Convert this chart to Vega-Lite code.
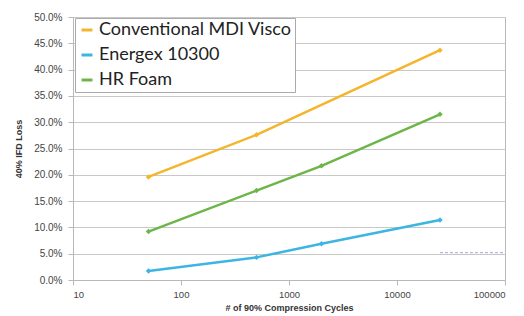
{
  "$schema": "https://vega.github.io/schema/vega-lite/v6.json",
  "width": 432,
  "height": 263,
  "autosize": {"type": "none"},
  "padding": {"left": 73, "top": 17, "right": 19, "bottom": 36},
  "background": "white",
  "config": {
    "view": {"stroke": "#b8b8b8", "strokeWidth": 1},
    "font": "Liberation Sans"
  },
  "datasets": {
    "main": [
      {"series": "Conventional MDI Visco", "cycles": 50, "loss": 0.196},
      {"series": "Conventional MDI Visco", "cycles": 500, "loss": 0.276},
      {"series": "Conventional MDI Visco", "cycles": 25000, "loss": 0.437},
      {"series": "Energex 10300", "cycles": 50, "loss": 0.017},
      {"series": "Energex 10300", "cycles": 500, "loss": 0.043},
      {"series": "Energex 10300", "cycles": 2000, "loss": 0.069},
      {"series": "Energex 10300", "cycles": 25000, "loss": 0.114},
      {"series": "HR Foam", "cycles": 50, "loss": 0.092},
      {"series": "HR Foam", "cycles": 500, "loss": 0.17},
      {"series": "HR Foam", "cycles": 2000, "loss": 0.217},
      {"series": "HR Foam", "cycles": 25000, "loss": 0.315}
    ],
    "ref": [
      {"x1": 25000, "x2": 100000, "y": 0.052}
    ]
  },
  "layer": [
    {
      "data": {"name": "main"},
      "mark": {"type": "line", "strokeWidth": 2.5, "point": {"size": 30, "filled": true, "shape": "diamond"}},
      "encoding": {
        "x": {
          "field": "cycles", "type": "quantitative",
          "scale": {"type": "log", "domain": [10, 100000], "nice": false},
          "axis": {
            "title": "# of 90% Compression Cycles",
            "values": [10, 100, 1000, 10000, 100000],
            "format": "d",
            "grid": false,
            "labelOverlap": false,
            "tickColor": "#b8b8b8",
            "domainColor": "#b8b8b8",
            "labelFontSize": 9.5,
            "labelColor": "#444",
            "tickSize": 5,
            "labelPadding": 4,
            "titleFontSize": 9,
            "titleFontWeight": "bold",
            "titleColor": "#333",
            "titlePadding": 5
          }
        },
        "y": {
          "field": "loss", "type": "quantitative",
          "scale": {"domain": [0, 0.5], "nice": false},
          "axis": {
            "title": "40% IFD Loss",
            "format": ".1%",
            "tickCount": 11,
            "labelOverlap": false,
            "grid": true,
            "gridColor": "#c8c8c8",
            "tickColor": "#b8b8b8",
            "domainColor": "#b8b8b8",
            "labelFontSize": 10,
            "labelColor": "#444",
            "tickSize": 5,
            "labelPadding": 6,
            "titleFontSize": 9,
            "titleFontWeight": "bold",
            "titleColor": "#333",
            "titlePadding": 10
          }
        },
        "color": {
          "field": "series", "type": "nominal",
          "scale": {
            "domain": ["Conventional MDI Visco", "Energex 10300", "HR Foam"],
            "range": ["#f4b52c", "#3cb5e2", "#6cb649"]
          },
          "legend": {
            "title": null,
            "orient": "none",
            "legendX": 2,
            "legendY": 1,
            "labelFontSize": 18,
            "labelFont": "Lato",
            "labelColor": "#222",
            "labelLimit": 400,
            "symbolType": "stroke",
            "symbolSize": 120,
            "symbolStrokeWidth": 3,
            "rowPadding": 7,
            "padding": 3,
            "strokeColor": "#aaa",
            "fillColor": "white",
            "labelOffset": 3
          }
        }
      }
    },
    {
      "data": {"name": "ref"},
      "mark": {"type": "rule", "stroke": "#a9a3d6", "strokeDash": [3, 2], "strokeWidth": 1.2, "opacity": 0.8},
      "encoding": {
        "x": {"field": "x1", "type": "quantitative"},
        "x2": {"field": "x2"},
        "y": {"field": "y", "type": "quantitative"}
      }
    }
  ]
}
